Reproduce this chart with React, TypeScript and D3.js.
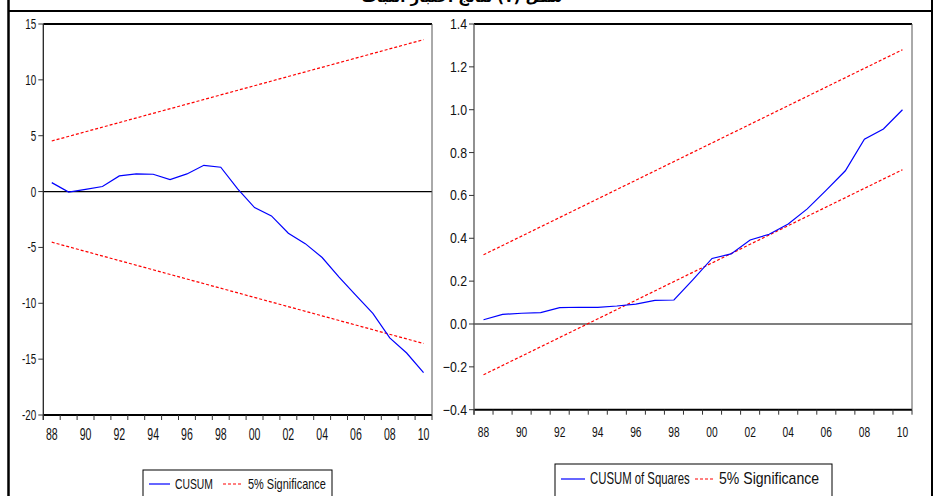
import React from 'react';
import * as d3 from 'd3';

const years = ['88','89','90','91','92','93','94','95','96','97','98','99','00','01','02','03','04','05','06','07','08','09','10'];
const cusum = [0.8, -0.05, 0.2, 0.45, 1.4, 1.58, 1.55, 1.07, 1.58, 2.35, 2.18, 0.25, -1.43, -2.18, -3.73, -4.66, -5.9, -7.65, -9.3, -10.9, -13.1, -14.45, -16.2];
const cusumSigUpper = [4.53, 13.6];
const cusumSigLower = [-4.53, -13.6];
const cusumsq = [0.02, 0.045, 0.05, 0.053, 0.076, 0.078, 0.078, 0.084, 0.093, 0.11, 0.112, 0.207, 0.306, 0.327, 0.392, 0.419, 0.467, 0.537, 0.625, 0.715, 0.862, 0.91, 1.0];
const sqSigUpper = [0.323, 1.28];
const sqSigLower = [-0.237, 0.72];
const cusumTicks = [-20, -15, -10, -5, 0, 5, 10, 15];
const sqTicks = [-0.4, -0.2, 0, 0.2, 0.4, 0.6, 0.8, 1.0, 1.2, 1.4];
const titleText = 'شكل (٧) نتائج اختبار الثبات';

const FONT = 'Liberation Sans, Arial, sans-serif';

function NText({ x, y, sx, size, anchor, children }: any) {
  return (
    <text transform={`translate(${x},${y}) scale(${sx},1)`} fontFamily={FONT} fontSize={size} textAnchor={anchor} fill="#111">
      {children}
    </text>
  );
}

function Panel({ left, right, top, bottom, domain, ticks, fmt, series, upper, lower, ylabSx, xlabSx, xlabSize, xlabY, leftStroke }: any) {
  const x = d3.scaleBand<string>().domain(years).range([left, right]);
  const y = d3.scaleLinear().domain(domain).range([bottom, top]);
  const cx = (i: number) => (x(years[i]) as number) + x.bandwidth() / 2;
  const line = d3.line<number>().x((_, i) => cx(i)).y((d) => y(d));
  const sigLine = (vals: number[]) =>
    d3.line<number>().x((_, i) => cx(i === 0 ? 0 : years.length - 1)).y((d) => y(d))(vals) as string;
  const bounds = d3.range(years.length + 1).map((i) => left + i * x.bandwidth());
  return (
    <g>
      <line x1={left} x2={right} y1={y(0)} y2={y(0)} stroke="#000" strokeWidth={1.2} />
      <path d={sigLine(upper)} fill="none" stroke="#ff0000" strokeWidth={1.2} strokeDasharray="3,2" />
      <path d={sigLine(lower)} fill="none" stroke="#ff0000" strokeWidth={1.2} strokeDasharray="3,2" />
      <path d={line(series) as string} fill="none" stroke="#0000ff" strokeWidth={1.2} />
      <line x1={left} x2={right} y1={top} y2={top} stroke="#000" strokeWidth={2} />
      <line x1={left} x2={right} y1={bottom} y2={bottom} stroke="#000" strokeWidth={2} />
      <line x1={right} x2={right} y1={top} y2={bottom} stroke="#555" strokeWidth={1} />
      <line x1={left} x2={left} y1={top} y2={bottom + 5} stroke={leftStroke} strokeWidth={1.3} />
      {ticks.map((t: number) => (
        <g key={t}>
          <line x1={left - 5} x2={left} y1={y(t)} y2={y(t)} stroke="#333" strokeWidth={1} />
          <NText x={left - 7} y={y(t) + 5} sx={ylabSx} size={14.5} anchor="end">{fmt(t)}</NText>
        </g>
      ))}
      {bounds.map((bx, i) => (
        <line key={i} x1={bx} x2={bx} y1={bottom} y2={bottom + 5} stroke="#333" strokeWidth={1} />
      ))}
      {years.map((yr, i) => (i % 2 === 0 ? (
        <NText key={yr} x={cx(i)} y={xlabY} sx={xlabSx} size={xlabSize} anchor="middle">{yr}</NText>
      ) : null))}
    </g>
  );
}

export default function App() {
  return (
    <svg width={935} height={496} style={{ position: 'absolute', left: 0, top: 0, background: '#fff' }}>
      <rect x={0} y={0} width={935} height={496} fill="#fff" />
      <text x={462} y={2} textAnchor="middle" fontFamily="DejaVu Sans" fontWeight="bold" fontSize={15} direction="rtl" fill="#000">{titleText}</text>
      <line x1={8} x2={933} y1={11} y2={11} stroke="#000" strokeWidth={2.2} />
      <line x1={8.5} x2={8.5} y1={0} y2={496} stroke="#000" strokeWidth={2.5} />
      <line x1={932} x2={932} y1={0} y2={496} stroke="#000" strokeWidth={2} />

      <Panel left={43.3} right={432} top={24} bottom={415} domain={[-20, 15]} ticks={cusumTicks}
        fmt={(t: number) => String(t)} series={cusum} upper={cusumSigUpper} lower={cusumSigLower}
        ylabSx={0.68} xlabSx={0.64} xlabSize={16.5} xlabY={440} leftStroke="#222" />
      <Panel left={474} right={912} top={24} bottom={409.7} domain={[-0.4, 1.4]} ticks={sqTicks}
        fmt={d3.format('.1f')} series={cusumsq} upper={sqSigUpper} lower={sqSigLower}
        ylabSx={0.85} xlabSx={0.66} xlabSize={15.5} xlabY={437} leftStroke="#555" />

      {/* left legend */}
      <rect x={143} y={470} width={189} height={40} fill="none" stroke="#000" strokeWidth={1} />
      <line x1={149} x2={170} y1={484} y2={484} stroke="#0000ff" strokeWidth={1.2} />
      <NText x={175} y={489} sx={0.69} size={15} anchor="start">CUSUM</NText>
      <line x1={223} x2={243} y1={484} y2={484} stroke="#ff0000" strokeWidth={1.2} strokeDasharray="3,2" />
      <NText x={248} y={489} sx={0.73} size={15} anchor="start">5% Significance</NText>

      {/* right legend */}
      <rect x={555} y={464} width={277} height={40} fill="none" stroke="#000" strokeWidth={1} />
      <line x1={561} x2={585} y1={479} y2={479} stroke="#0000ff" strokeWidth={1.2} />
      <NText x={590} y={484} sx={0.71} size={16} anchor="start">CUSUM of Squares</NText>
      <line x1={695} x2={715} y1={479} y2={479} stroke="#ff0000" strokeWidth={1.2} strokeDasharray="3,2" />
      <NText x={719} y={484} sx={0.88} size={16} anchor="start">5% Significance</NText>
    </svg>
  );
}
